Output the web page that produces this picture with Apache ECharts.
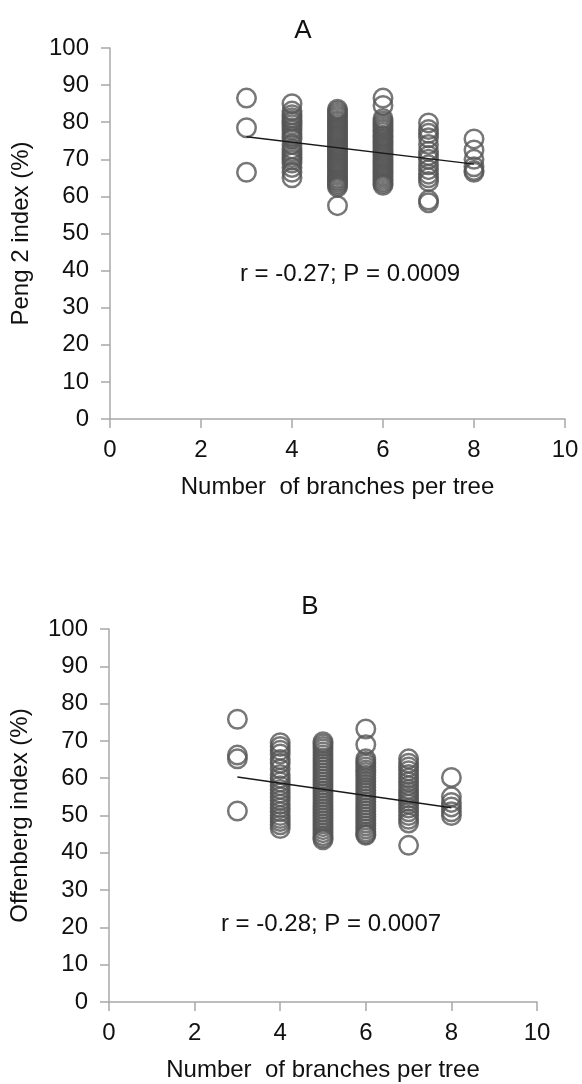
<!DOCTYPE html>
<html>
<head>
<meta charset="utf-8">
<script src="https://cdn.jsdelivr.net/npm/echarts@6/dist/echarts.min.js"></script>
<style>
  html, body { margin: 0; padding: 0; background: #fff; }
  #chart { width: 582px; height: 1084px; }
</style>
</head>
<body>
<div id="chart"></div>
<script>
// x categories: number of branches per tree
var branchCounts = [3, 4, 5, 6, 7, 8];

// panel A: Peng 2 index (%), one list per branch count
var pengByBranch = [
  [86.5, 78.5, 66.5],
  [85, 83, 82, 81.2, 80.5, 80, 79.3, 78.5, 77.8, 77, 76.2, 75.5, 74, 72.8, 72, 71.2, 70.5, 69.8, 69, 67.8, 66.5, 65],
  [83.5, 83, 82.4, 81.8, 81.2, 80.5, 80, 79.4, 78.8, 78.2, 77.6, 77, 76.5, 76, 75.4, 74.8, 74.2, 73.6, 73, 72.5, 72, 71.4, 70.8, 70.2, 69.6, 69, 68.5, 68, 67.4, 66.8, 66.2, 65.6, 65, 64.5, 64, 63.5, 63, 62.5, 57.5],
  [86.5, 84.5, 81, 80.3, 79.6, 79, 78.4, 77.8, 77.2, 76.5, 76, 75.4, 74.8, 74.2, 73.6, 73, 72.4, 71.8, 71.2, 70.6, 70, 69.4, 68.8, 68.2, 67.6, 67, 66.4, 65.8, 65.2, 64.6, 64, 63.5, 63],
  [79.8, 78, 77, 75.8, 74, 72.2, 71, 70, 68.5, 67.2, 66, 65, 64, 59, 58.3],
  [75.5, 72.5, 70, 68, 67, 66.5]
];

// panel B: Offenberg index (%)
var offenbergByBranch = [
  [75.8, 66.2, 65.2, 51.2],
  [69.5, 68.5, 67.5, 66.5, 65, 64, 62.5, 61, 60, 59, 58, 57, 56, 55, 54, 53, 52, 51, 50, 49.2, 48.4, 47.5, 46.5],
  [69.8, 69.2, 68.5, 67.8, 67, 66.2, 65.4, 64.6, 63.8, 63, 62.2, 61.4, 60.6, 59.8, 59, 58.2, 57.4, 56.6, 55.8, 55, 54.2, 53.4, 52.6, 51.8, 51, 50.2, 49.4, 48.6, 47.8, 47, 46.2, 45.4, 44.6, 44, 43.5],
  [73.2, 69, 65.2, 64.5, 63.8, 63, 62.2, 61.5, 60.8, 60, 59.2, 58.4, 57.6, 56.8, 56, 55.2, 54.4, 53.6, 52.8, 52, 51.2, 50.4, 49.6, 48.8, 48, 47.2, 46.4, 45.6, 45, 44.7],
  [65.2, 64, 63, 62, 61, 60, 59, 58, 57, 56.2, 55.4, 54.6, 53.8, 53, 52, 51, 50, 49, 48, 42],
  [60.2, 55, 53.5, 52.3, 51, 50]
];

// regression lines, value at first and last branch count
var trendX = [3, 8];
var pengTrend = [76.1, 68.7];
var offenbergTrend = [60.3, 52.1];

var panelTitles = ['A', 'B'];
var statTexts = ['r = -0.27; P = 0.0009', 'r = -0.28; P = 0.0007'];
var yNames = ['Peng 2 index (%)', 'Offenberg index (%)'];
var xName = 'Number  of branches per tree';

(function () {
  var font = '"Liberation Sans", Arial, sans-serif';
  var ink = '#111';
  var axisGray = '#a8a8a8';
  var ringGray = '#555';

  function points(lists) {
    var out = [];
    lists.forEach(function (vals, i) {
      vals.forEach(function (v) { out.push([branchCounts[i], v]); });
    });
    return out;
  }
  function line(vals) {
    return trendX.map(function (x, i) { return [x, vals[i]]; });
  }

  function xAxis(gi) {
    return {
      gridIndex: gi, type: 'value', min: 0, max: 10, interval: 2,
      name: xName, nameLocation: 'middle', nameGap: 56,
      nameTextStyle: { color: ink, fontSize: 24, fontFamily: font },
      axisLine: { onZero: false, lineStyle: { color: axisGray, width: 1.5 } },
      axisTick: { inside: false, length: 9, lineStyle: { color: axisGray, width: 1.5 } },
      axisLabel: { color: ink, fontSize: 24, fontFamily: font, margin: 19 },
      splitLine: { show: false }
    };
  }
  function yAxis(gi) {
    return {
      gridIndex: gi, type: 'value', min: 0, max: 100, interval: 10,
      name: yNames[gi], nameLocation: 'middle', nameGap: 77, nameRotate: 90,
      nameTextStyle: { color: ink, fontSize: 24, fontFamily: font },
      axisLine: { show: true, lineStyle: { color: axisGray, width: 1.5 } },
      axisTick: { show: true, inside: false, length: 9, lineStyle: { color: axisGray, width: 1.5 } },
      axisLabel: { color: ink, fontSize: 24, fontFamily: font, margin: 21 },
      splitLine: { show: false }
    };
  }
  function scatter(gi, data) {
    return {
      type: 'scatter', xAxisIndex: gi, yAxisIndex: gi, data: data,
      symbol: 'circle', symbolSize: 18.5,
      itemStyle: { color: 'rgba(0,0,0,0)', borderColor: ringGray, borderWidth: 2.5 },
      z: 2
    };
  }
  function trend(gi, data) {
    return {
      type: 'line', xAxisIndex: gi, yAxisIndex: gi, data: data,
      symbol: 'none', lineStyle: { color: '#1a1a1a', width: 1.5 }, z: 3
    };
  }

  var chart = echarts.init(document.getElementById('chart'), null, { renderer: 'canvas' });
  chart.setOption({
    animation: false,
    backgroundColor: '#fff',
    title: [
      { text: panelTitles[0], left: 298, top: 13, textAlign: 'center',
        textStyle: { fontSize: 26, fontWeight: 'normal', color: ink, fontFamily: font } },
      { text: panelTitles[1], left: 305, top: 589, textAlign: 'center',
        textStyle: { fontSize: 26, fontWeight: 'normal', color: ink, fontFamily: font } },
      { text: statTexts[0], left: 345, top: 257, textAlign: 'center',
        textStyle: { fontSize: 24, fontWeight: 'normal', color: ink, fontFamily: font } },
      { text: statTexts[1], left: 326, top: 907, textAlign: 'center',
        textStyle: { fontSize: 24, fontWeight: 'normal', color: ink, fontFamily: font } }
    ],
    grid: [
      { left: 110, right: 17, top: 48, bottom: 665 },
      { left: 108, right: 45, top: 629, bottom: 82 }
    ],
    xAxis: [xAxis(0), xAxis(1)],
    yAxis: [yAxis(0), yAxis(1)],
    series: [
      scatter(0, points(pengByBranch)),
      trend(0, line(pengTrend)),
      scatter(1, points(offenbergByBranch)),
      trend(1, line(offenbergTrend))
    ]
  });
})();
</script>
</body>
</html>
